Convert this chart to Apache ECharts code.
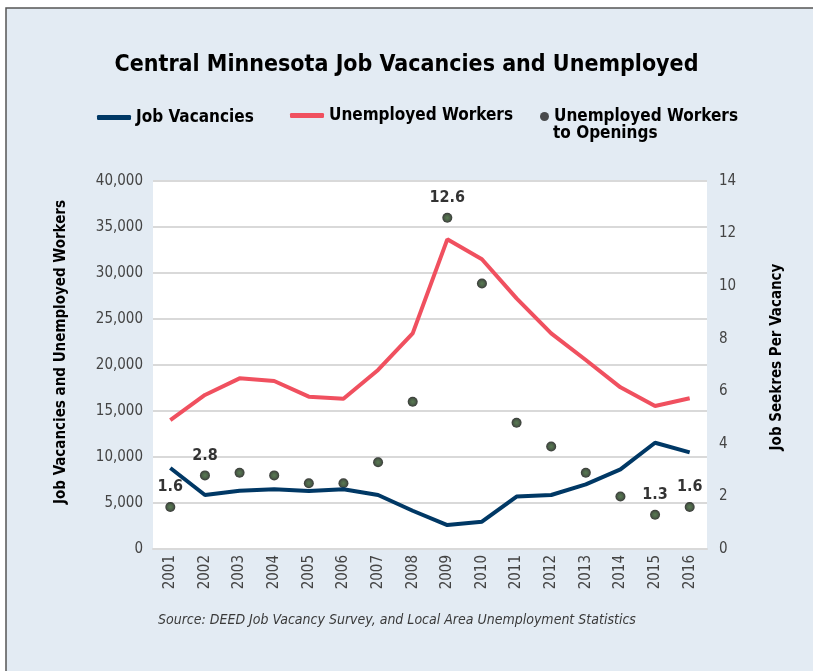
<!DOCTYPE html>
<html>
<head>
<meta charset="utf-8">
<script src="https://cdn.jsdelivr.net/npm/echarts@6/dist/echarts.min.js"></script>
<style>
  html, body { margin: 0; padding: 0; background: #ffffff; }
  #chart { width: 813px; height: 671px; }
</style>
</head>
<body>
<div id="chart"></div>
<script>
/* chart data */
const years = ["2001", "2002", "2003", "2004", "2005", "2006", "2007", "2008",
  "2009", "2010", "2011", "2012", "2013", "2014", "2015", "2016"];
const jobVacancies = [8800, 5870, 6340, 6500, 6300, 6500, 5870, 4160,
  2600, 2970, 5700, 5870, 7030, 8660, 11550, 10500];
const unemployedWorkers = [14020, 16740, 18550, 18260, 16560, 16340, 19460, 23440,
  33660, 31490, 27250, 23440, 20540, 17570, 15540, 16380];
const seekersPerOpening = [1.6, 2.8, 2.9, 2.8, 2.5, 2.5, 3.3, 5.6,
  12.6, 10.1, 4.8, 3.9, 2.9, 2.0, 1.3, 1.6];
const labelledYears = ["2001", "2002", "2009", "2015", "2016"]; //only these get a value label

const narrow = "'DejaVu Sans Condensed', 'Liberation Sans Narrow', 'Roboto', sans-serif";
const boldText = { fontFamily: narrow, fontWeight: "bold", fontSize: 17, color: "#000" };

/* marker fill: dark green centre, black rim */
const markerFill = new echarts.graphic.RadialGradient(0.5, 0.5, 0.5, [
  { offset: 0, color: "#2f5a27" },
  { offset: 0.55, color: "#203a1c" },
  { offset: 1, color: "#080808" },
]);

let myChart = echarts.init(document.getElementById("chart"));
let option = {
  animation: false,
  backgroundColor: "#ffffff",
  graphic: [
    {
      type: "rect",
      z: -10,
      shape: { x: 6, y: 8, width: 830, height: 700 },
      style: { fill: "#e3ebf3", stroke: "#555555", lineWidth: 1.5 },
    },
    {
      type: "text",
      left: 158,
      top: 613,
      style: {
        text: "Source: DEED Job Vacancy Survey, and Local Area Unemployment Statistics",
        font: "italic 14px " + narrow,
        fill: "#3a3a3a",
      },
    },
    {
      type: "text",
      left: 553,
      top: 125,
      style: { text: "to Openings", font: "bold 17px " + narrow, fill: "#000" },
    },
  ],
  title: {
    text: "Central Minnesota Job Vacancies and Unemployed",
    left: "center",
    top: 49,
    textStyle: { fontFamily: narrow, fontWeight: "bold", fontSize: 23, color: "#000000" },
  },
  legend: [
    {
      left: 92,
      top: 104,
      itemWidth: 34,
      itemHeight: 5,
      data: [{ name: "Job Vacancies", icon: "roundRect" }],
      textStyle: boldText,
    },
    {
      left: 285,
      top: 102,
      itemWidth: 34,
      itemHeight: 5,
      data: [{ name: "Unemployed Workers", icon: "roundRect" }],
      textStyle: boldText,
    },
    {
      left: 535,
      top: 103,
      itemWidth: 9,
      itemHeight: 9,
      data: [{ name: "Unemployed Workers to Openings", icon: "circle", itemStyle: { color: "#222", borderWidth: 0 } }],
      formatter: function () {
        return "Unemployed Workers"; //second line drawn as graphic text
      },
      textStyle: boldText,
    },
  ],
  grid: { left: 153, right: 106, top: 181, bottom: 122, show: true, backgroundColor: "#ffffff", borderWidth: 0 },
  xAxis: {
    type: "category",
    data: years,
    boundaryGap: true,
    axisLine: { lineStyle: { color: "#d9d9d9", width: 2 } },
    axisTick: { show: false },
    axisLabel: { rotate: 90, fontFamily: narrow, fontSize: 15, color: "#444", margin: 6 },
  },
  yAxis: [
    {
      type: "value",
      min: 0,
      max: 40000,
      interval: 5000,
      name: "Job Vacancies and Unemployed Workers",
      nameLocation: "middle",
      nameRotate: 90,
      nameGap: 84,
      nameTextStyle: { fontFamily: narrow, fontWeight: "bold", fontSize: 15, color: "#000", padding: [0, 0, 0, 26] },
      axisLine: { show: false },
      axisTick: { show: false },
      axisLabel: {
        fontFamily: narrow, fontSize: 15, color: "#444", margin: 10,
        formatter: function (v) { return v.toLocaleString("en-US"); },
      },
      splitLine: { lineStyle: { color: "#d9d9d9", width: 2 } },
    },
    {
      type: "value",
      min: 0,
      max: 14,
      interval: 2,
      position: "right",
      name: "Job Seekres Per Vacancy",
      nameLocation: "middle",
      nameRotate: 90,
      nameGap: 63,
      nameTextStyle: { fontFamily: narrow, fontWeight: "bold", fontSize: 15, color: "#000", padding: [0, 0, 0, 16] },
      axisLine: { show: false },
      axisTick: { show: false },
      axisLabel: { fontFamily: narrow, fontSize: 15, color: "#444", margin: 12 },
      splitLine: { show: false },
    },
  ],
  series: [
    {
      name: "Job Vacancies",
      type: "line",
      data: jobVacancies,
      yAxisIndex: 0,
      symbol: "none",
      color: "#003865",
      lineStyle: { width: 4, color: "#003865" },
    },
    {
      name: "Unemployed Workers",
      type: "line",
      data: unemployedWorkers,
      yAxisIndex: 0,
      symbol: "none",
      color: "#f0505f",
      lineStyle: { width: 4, color: "#f0505f" },
    },
    {
      name: "Unemployed Workers to Openings",
      type: "scatter",
      data: seekersPerOpening,
      yAxisIndex: 1,
      symbol: "circle",
      symbolSize: 10,
      color: "#222",
      itemStyle: { color: markerFill },
      label: {
        show: true,
        position: "top",
        distance: 7,
        fontFamily: narrow,
        fontWeight: "bold",
        fontSize: 16,
        color: "#000",
        formatter: function (p) {
          //label selected years only
          return labelledYears.indexOf(years[p.dataIndex]) !== -1 ? p.value.toFixed(1) : "";
        },
      },
    },
  ],
};
myChart.setOption(option);
</script>
</body>
</html>
